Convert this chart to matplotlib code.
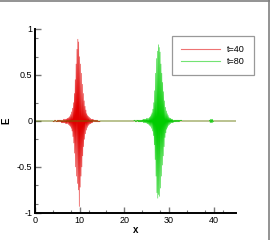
import numpy as np
import matplotlib
matplotlib.use("Agg")
import matplotlib.pyplot as plt
from matplotlib.lines import Line2D

# E(x) turning points, t=40 packet (x from 4 to 15)
e40 = [0.0, -0.01, 0.0, -0.01, 0.01, -0.0, 0.01, -0.01, 0.0, -0.01, 0.01,
       -0.01, 0.01, -0.01, 0.01, -0.01, 0.01, -0.01, 0.01, -0.02, 0.01,
       -0.02, 0.01, -0.02, 0.02, -0.02, 0.02, -0.02, 0.02, -0.03, 0.02,
       -0.03, 0.03, -0.03, 0.03, -0.04,
       0.04, -0.05, 0.05, -0.06, 0.07, -0.08, 0.10, -0.11, 0.14, -0.17,
       0.20, -0.24, 0.30, -0.35, 0.45,
       -0.50, 0.62, -0.60, 0.78, -0.68, 0.89, -0.75, 0.86, -0.93,
       0.70, -0.72, 0.62, -0.60, 0.52, -0.50, 0.40, -0.38, 0.30, -0.28,
       0.22, -0.20, 0.16, -0.14, 0.12, -0.10, 0.08, -0.07, 0.06, -0.05,
       0.05, -0.04, 0.04, -0.03, 0.03, -0.03, 0.02, -0.02, 0.02, -0.02, 0.02,
       -0.01, 0.01, -0.01, 0.01, -0.01, 0.01, -0.01, 0.01, -0.01, 0.01,
       -0.01, 0.0, -0.01, 0.0, -0.01, 0.0, -0.0, 0.0, -0.0, 0.0]
x40_range = (4.0, 15.0)

# t=80 packet (x from 22 to 35)
e80 = [0.0, -0.0, 0.01, -0.0, 0.01, -0.01, 0.0, -0.01, 0.01, -0.0, 0.01,
       -0.01, 0.01, -0.01, 0.01, -0.01, 0.01, -0.01, 0.01, -0.01, 0.01,
       -0.01, 0.02, -0.02, 0.02, -0.02, 0.02, -0.02, 0.02, -0.02, 0.03,
       -0.03, 0.03, -0.03, 0.03, -0.04,
       0.04, -0.05, 0.05, -0.06, 0.07, -0.08, 0.09, -0.11, 0.13, -0.16,
       0.20, -0.26, 0.33, -0.42, 0.52,
       -0.60, 0.68, -0.78, 0.76, -0.84, 0.83, -0.80, 0.80, -0.82,
       0.75, -0.73, 0.62, -0.60, 0.52, -0.48, 0.42, -0.38, 0.32, -0.28,
       0.22, -0.18, 0.15, -0.13, 0.11, -0.09, 0.08, -0.07, 0.06, -0.05,
       0.04, -0.04, 0.03, -0.03, 0.03, -0.02, 0.02, -0.02, 0.02, -0.02, 0.01,
       -0.01, 0.01, -0.01, 0.01, -0.01, 0.01, -0.01, 0.01, -0.01, 0.01,
       -0.01, 0.01, -0.01, 0.01, -0.0, 0.01, -0.0, 0.01, -0.0, 0.0,
       -0.0, 0.0, -0.0, 0.0, -0.0, 0.0, -0.0, 0.0, -0.0, 0.0,
       -0.0, 0.0, -0.0, 0.0, -0.0, 0.0, -0.0, 0.0, -0.0, 0.0]
x80_range = (22.0, 35.0)
# small blip of t=80 near x=39.5
e80_blip = [0.0, 0.01, -0.02, 0.02, -0.02, 0.02, -0.02, 0.02, -0.01, 0.0]
x80_blip_range = (39.0, 40.0)

x_domain = (0.0, 45.0)
labels = ["t=40", "t=80"]

xticks = [0, 10, 20, 30, 40]
xminor = [4, 8, 12, 16, 24, 28, 34, 38, 42]
yticks = [-1, -0.5, 0, 0.5, 1]
yticklabels = ["-1", "-0.5", "0", "0.5", "1"]
yminor = [-0.9, -0.7, -0.2, 0.2, 0.7, 0.9]


def series(ranges, vals):
    xs = [x_domain[0]]
    es = [0.0]
    for (a, b), v in zip(ranges, vals):
        xs.extend(np.linspace(a, b, len(v)))
        es.extend(v)
    xs.append(x_domain[1])
    es.append(0.0)
    return np.array(xs), np.array(es)


x40, y40 = series([x40_range], [e40])
x80, y80 = series([x80_range, x80_blip_range], [e80, e80_blip])

plt.rcParams["font.family"] = ["Liberation Sans", "DejaVu Sans"]

fig = plt.figure(figsize=(2.7, 2.4), dpi=100)
ax = fig.add_axes([35 / 270, 1 - 213 / 240, 201 / 270, 184 / 240])

ax.plot(x40, y40, color="#e00000", lw=0.35, label=labels[0])
ax.plot(x80, y80, color="#00cc00", lw=0.35, label=labels[1])

ax.set_xlim(*x_domain)
ax.set_ylim(-1, 1)

ax.set_xticks(xticks)
ax.set_xticks(xminor, minor=True)
ax.set_yticks(yticks)
ax.set_yticklabels(yticklabels)
ax.set_yticks(yminor, minor=True)

ax.tick_params(which="both", direction="in", color="#777777", labelsize=6.5,
               pad=2)
ax.tick_params(which="major", length=4, width=1)
ax.tick_params(which="minor", length=2, width=0.8)

for s in ["top", "right"]:
    ax.spines[s].set_visible(False)
for s in ["left", "bottom"]:
    ax.spines[s].set_linewidth(1.4)
    ax.spines[s].set_color("black")

ax.set_xlabel("x", fontsize=7, fontweight="bold", labelpad=0)
ax.set_ylabel("E", fontsize=7, fontweight="bold", labelpad=4)

leg = ax.legend(loc="upper left", bbox_to_anchor=(137 / 201, 1 - 7 / 184),
                fontsize=6.5, frameon=True, fancybox=False, handlelength=4.3,
                borderpad=1.0, labelspacing=0.35, handletextpad=0.8,
                borderaxespad=0)
leg.get_frame().set_edgecolor("#808080")
leg.get_frame().set_linewidth(0.9)
for ln in leg.get_lines():
    ln.set_linewidth(0.8)
    ln.set_alpha(0.55)

# gray frame edge at top and right of the image
fig.add_artist(Line2D([0, 1], [0.997, 0.997], color="#808080", lw=1.2,
                      transform=fig.transFigure))
fig.add_artist(Line2D([0.997, 0.997], [0, 1], color="#808080", lw=1.2,
                      transform=fig.transFigure))

fig.savefig("out.png", dpi=100)
